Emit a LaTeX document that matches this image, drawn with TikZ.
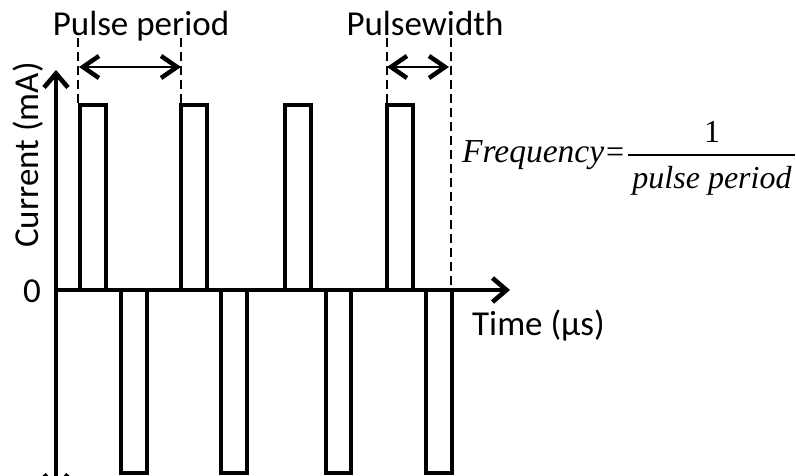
\documentclass[tikz,border=0pt]{standalone}
\usepackage{fontspec}
\setmainfont{Carlito}
\newfontfamily\timesf{Liberation Serif}
\usetikzlibrary{arrows.meta}
\begin{document}
\begin{tikzpicture}[x=1pt,y=-1pt,
  lbl/.style={font=\fontsize{35}{40}\selectfont, inner sep=0pt},
  frm/.style={font=\timesf\fontsize{32}{36}\selectfont, inner sep=0pt},
  axis/.style={line width=4.6pt, -{Straight Barb[length=14pt,width=24pt,line width=4.6pt]}},
  pulse/.style={line width=4.4pt, line join=miter},
  guide/.style={line width=2.2pt, dash pattern=on 9pt off 5pt},
  span/.style={line width=2pt, {Straight Barb[length=16pt,width=22pt,line width=4.5pt]}-{Straight Barb[length=16pt,width=22pt,line width=4.5pt]}}]
\useasboundingbox (0,0) rectangle (796,476);
\clip (0,0) rectangle (796,476);
% axes
\coordinate (o) at (56,290);
\coordinate (ytop) at (56,70);
\coordinate (ybot) at (56,492);
\coordinate (xend) at (510,290);
\draw[axis] (o) -- (ytop);
\draw[axis] (o) -- (ybot);
\draw[axis] (o) -- (xend);
% positive pulses
\foreach \a/\b in {80/106,181/207,285/311,387/413}
  \draw[pulse] (\a,290) -- (\a,105) -- (\b,105) -- (\b,290);
% negative pulses
\foreach \a/\b in {121/147,221/247,326/351,426/452}
  \draw[pulse] (\a,290) -- (\a,473) -- (\b,473) -- (\b,290);
% guides
\draw[guide] (78,38) -- (78,106);
\draw[guide] (181,38) -- (181,106);
\draw[guide] (387,38) -- (387,106);
\draw[guide] (451,38) -- (451,290);
% span arrows
\coordinate (p1) at (79,67);
\coordinate (p2) at (181,67);
\coordinate (w1) at (387,67);
\coordinate (w2) at (449,67);
\draw[span] (p1) -- (p2);
\draw[span] (w1) -- (w2);
% labels
\node[lbl, anchor=base] (lp) at (141,36) {Pulse period};
\node[lbl, anchor=base] (lw) at (425,36) {Pulsewidth};
\node[lbl, anchor=base, rotate=90] (ly) at (38,155) {Current (mA)};
\node[lbl, anchor=base] (l0) at (32,302) {0};
\node[lbl, anchor=base west] (lt) at (472,335) {Time (µs)};
% formula
\node[frm, anchor=base west, font=\timesf\fontsize{33.5}{38}\selectfont] (f) at (462,163) {\itshape Frequency};
\node[frm, anchor=base west] (eq) at (606,163) {=};
\coordinate (fl) at (628,155);
\coordinate (fr) at (795,155);
\draw[line width=1.4pt] (fl) -- (fr);
\node[frm, anchor=base] (fn) at (712,143) {1};
\node[frm, anchor=base] (fd) at (712,189) {\itshape pulse period};
\end{tikzpicture}
\end{document}
